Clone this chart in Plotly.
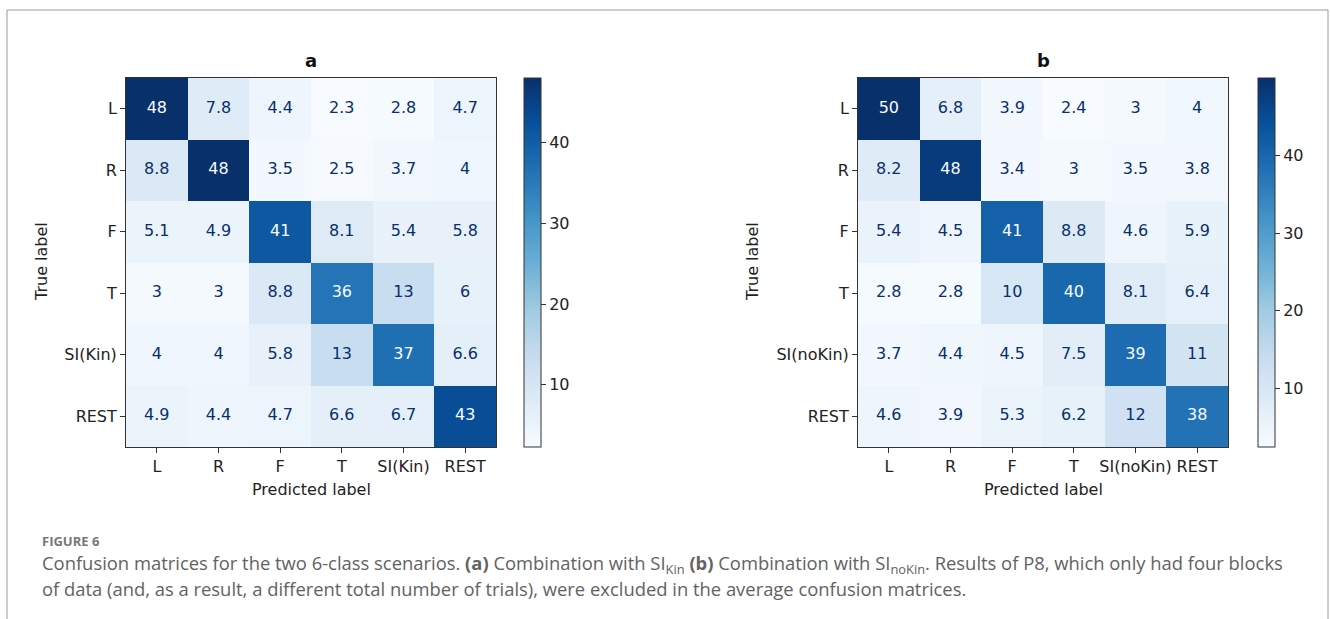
import plotly.graph_objects as go

# Class labels for the two 6-class scenarios
classes_a = ["L", "R", "F", "T", "SI(Kin)", "REST"]
classes_b = ["L", "R", "F", "T", "SI(noKin)", "REST"]

# Averaged confusion matrices (rows: true label, columns: predicted label)
cm_a = [
    [48, 7.8, 4.4, 2.3, 2.8, 4.7],
    [8.8, 48, 3.5, 2.5, 3.7, 4],
    [5.1, 4.9, 41, 8.1, 5.4, 5.8],
    [3, 3, 8.8, 36, 13, 6],
    [4, 4, 5.8, 13, 37, 6.6],
    [4.9, 4.4, 4.7, 6.6, 6.7, 43],
]
cm_b = [
    [50, 6.8, 3.9, 2.4, 3, 4],
    [8.2, 48, 3.4, 3, 3.5, 3.8],
    [5.4, 4.5, 41, 8.8, 4.6, 5.9],
    [2.8, 2.8, 10, 40, 8.1, 6.4],
    [3.7, 4.4, 4.5, 7.5, 39, 11],
    [4.6, 3.9, 5.3, 6.2, 12, 38],
]
colorbar_ticks = [10, 20, 30, 40]

W, H = 1330, 619
BLUES = ["#f7fbff", "#deebf7", "#c6dbef", "#9ecae1", "#6baed6",
         "#4292c6", "#2171b5", "#08519c", "#08306b"]
colorscale = [[i / (len(BLUES) - 1), c] for i, c in enumerate(BLUES)]
FONT = "DejaVu Sans"
SPINE = "#333333"


def px_x(p):
    return p / W


def px_y(p):
    return 1 - p / H


def note(text, x, y, size, color, family=FONT, xanchor="center", angle=0):
    fig.add_annotation(text=text, x=px_x(x), y=px_y(y), xref="paper", yref="paper",
                       xanchor=xanchor, yanchor="middle", showarrow=False,
                       textangle=angle, font=dict(family=family, size=size, color=color))


fig = go.Figure()

panels = [
    dict(cm=cm_a, classes=classes_a, x0=126, x1=496, cb_x=524, ylab_x=41, title="a"),
    dict(cm=cm_b, classes=classes_b, x0=858, x1=1228, cb_x=1258, ylab_x=752, title="b"),
]
top, bottom = 78, 447

for k, p in enumerate(panels):
    sfx = "" if k == 0 else "2"
    xa, ya = "x" + sfx, "y" + sfx
    cm, cls = p["cm"], p["classes"]
    flat = [v for row in cm for v in row]
    zmin, zmax = min(flat), max(flat)
    thresh = (zmin + zmax) / 2

    fig.add_trace(go.Heatmap(
        z=cm, x=cls, y=cls, xaxis=xa, yaxis=ya,
        colorscale=colorscale, zmin=zmin, zmax=zmax,
        hoverinfo="skip", xgap=0, ygap=0,
        colorbar=dict(
            x=px_x(p["cb_x"]), xanchor="left", xpad=0,
            y=px_y(bottom), yanchor="bottom", ypad=0,
            len=(bottom - top) / H, lenmode="fraction",
            thickness=17, thicknessmode="pixels",
            outlinewidth=1, outlinecolor=SPINE,
            tickvals=colorbar_ticks, ticks="outside", ticklen=5,
            tickcolor=SPINE, tickfont=dict(family=FONT, size=16, color="#222"),
        ),
    ))

    # cell labels: light text on dark cells, dark text on light cells
    xs, ys, txt, cols = [], [], [], []
    for i, row in enumerate(cm):
        for j, v in enumerate(row):
            xs.append(cls[j])
            ys.append(cls[i])
            txt.append(format(v, ".2g"))
            cols.append(BLUES[0] if v > thresh else BLUES[-1])
    fig.add_trace(go.Scatter(
        x=xs, y=ys, xaxis=xa, yaxis=ya, mode="text", text=txt,
        textfont=dict(family=FONT, size=16, color=cols),
        hoverinfo="skip", showlegend=False,
    ))

    axis_common = dict(
        showline=True, linecolor=SPINE, linewidth=1, mirror=True,
        ticks="outside", ticklen=5, tickcolor=SPINE, showgrid=False,
        zeroline=False, tickfont=dict(family=FONT, size=16, color="#222"),
        fixedrange=True,
    )
    fig.layout["xaxis" + sfx] = dict(
        axis_common, domain=[px_x(p["x0"]), px_x(p["x1"])],
        anchor=ya, categoryorder="array", categoryarray=cls,
    )
    fig.layout["yaxis" + sfx] = dict(
        axis_common, domain=[px_y(bottom), px_y(top)],
        anchor=xa, categoryorder="array", categoryarray=cls[::-1],
    )

    cx = (p["x0"] + p["x1"]) / 2
    note("<b>%s</b>" % p["title"], cx, 60, 18, "#111")
    note("Predicted label", cx, 489, 16, "#222")
    note("True label", p["ylab_x"], 262, 16, "#222", angle=-90)

# Caption
CAP = "Open Sans"
note("<b>FIGURE 6</b>", 40, 541, 13, "#777", family=CAP, xanchor="left")
note("Confusion matrices for the two 6-class scenarios. <b>(a)</b> Combination with "
     "SI<sub>Kin</sub> <b>(b)</b> Combination with SI<sub>noKin</sub>. Results of P8, "
     "which only had four blocks", 40, 564, 18.4, "#626262", family=CAP, xanchor="left")
note("of data (and, as a result, a different total number of trials), were excluded "
     "in the average confusion matrices.", 40, 588, 18.4, "#626262", family=CAP,
     xanchor="left")

# Outer frame
fig.add_shape(type="rect", xref="paper", yref="paper",
              x0=px_x(7), x1=px_x(1328), y0=-0.05, y1=px_y(10),
              line=dict(color="#9a9a9a", width=1))

fig.update_layout(
    width=W, height=H, margin=dict(l=0, r=0, t=0, b=0),
    paper_bgcolor="white", plot_bgcolor="white", showlegend=False,
)

fig.write_html("out.html")
